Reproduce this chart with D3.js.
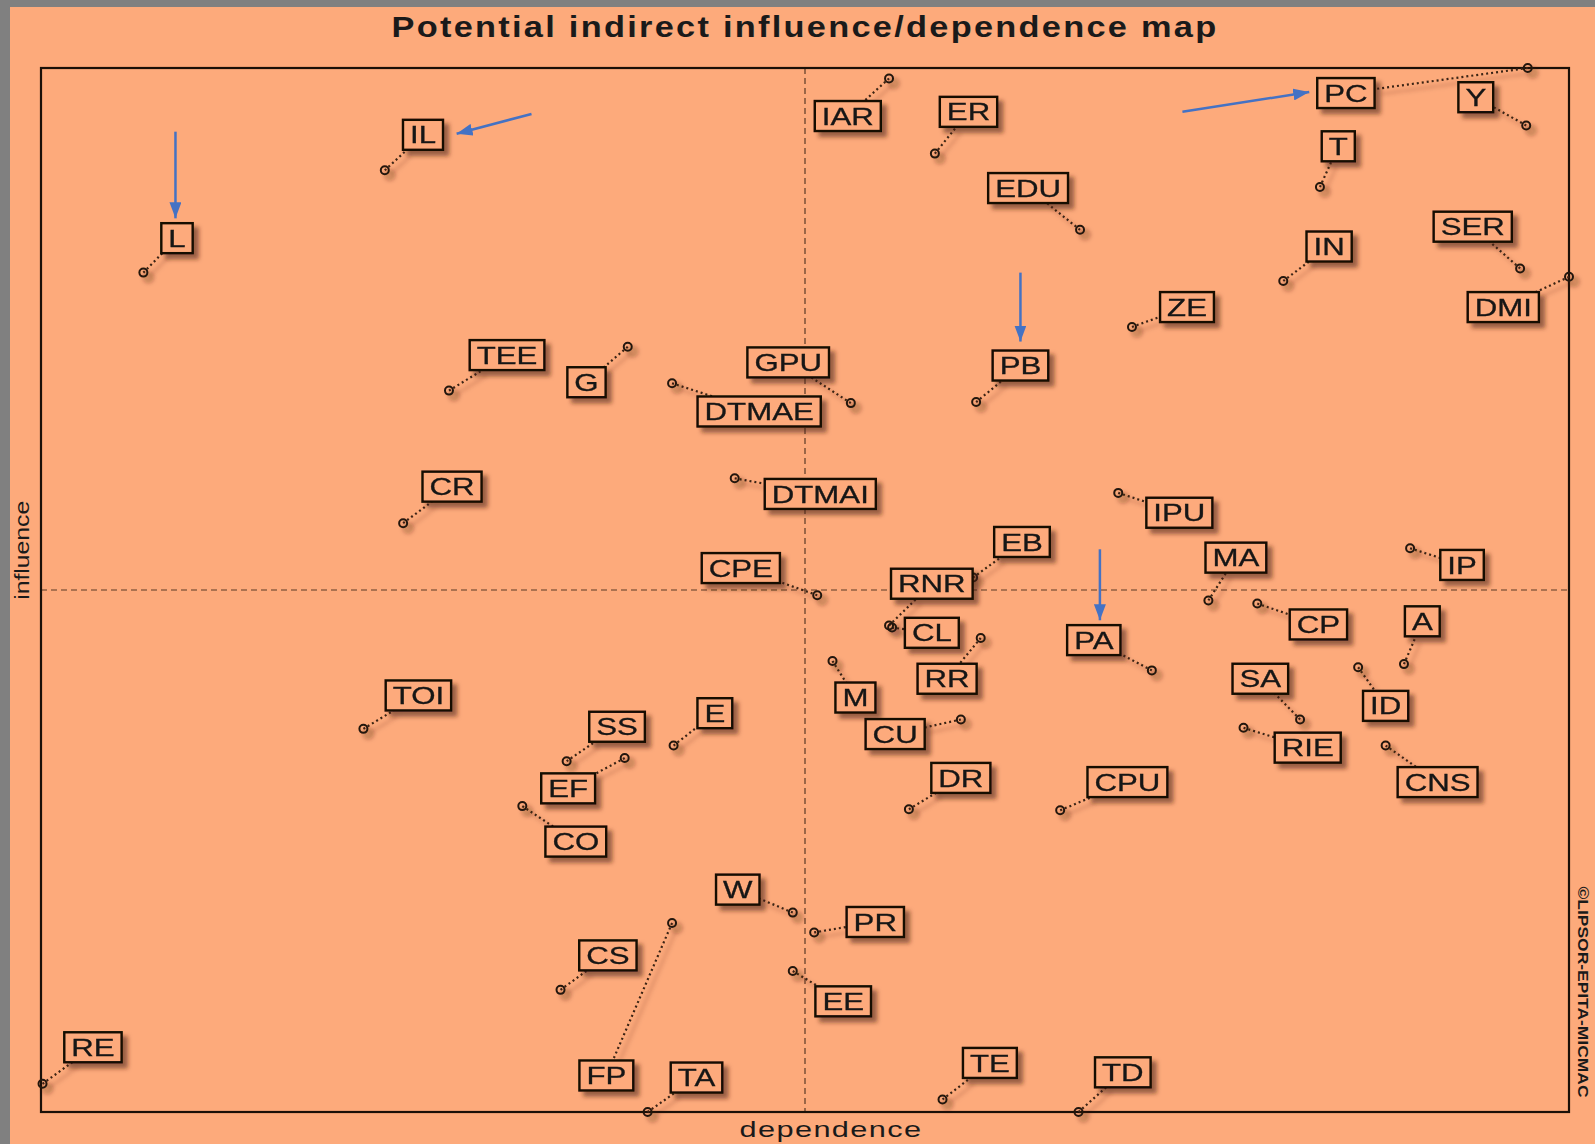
<!DOCTYPE html>
<html>
<head>
<meta charset="utf-8">
<title>Potential indirect influence/dependence map</title>
<script src="https://d3js.org/d3.v7.min.js"></script>
<style>
  body { margin: 0; background: #fdaa7b; }
  text { font-family: "Liberation Sans", Arial, sans-serif; }
</style>
</head>
<body>
<svg id="canvas" width="1595" height="1144"></svg>
<script>
// MICMAC variables: position on the map (0-100 on both axes)
var codes = ["L","IL","RE","TEE","G","GPU","DTMAE","IAR","ER","EDU",
             "PC","Y","T","IN","SER","DMI","ZE","PB","CR","DTMAI",
             "IPU","EB","MA","IP","CPE","RNR","CL","RR","PA","CP",
             "A","SA","ID","RIE","CNS","TOI","SS","E","EF","CO",
             "M","CU","DR","CPU","W","PR","CS","EE","FP","TA",
             "TE","TD"];
var dependence = [6.7,22.5,0.1,26.7,38.4,53.0,41.3,55.5,58.5,68.0,
                  97.3,97.2,83.7,81.3,96.8,100,71.4,61.2,23.7,45.4,
                  70.5,61.0,76.4,89.6,50.8,55.5,55.7,61.5,72.7,79.6,
                  89.2,82.4,86.2,78.7,88.0,21.1,34.4,41.4,38.2,31.5,
                  51.8,60.2,56.8,66.7,49.2,50.6,34.0,49.2,41.3,39.7,
                  59.0,67.9];
var influence = [80.4,90.2,2.7,69.1,73.3,67.9,69.8,99.0,91.8,84.5,
                 100,94.5,88.6,79.6,80.8,80.0,75.2,68.0,56.4,60.7,
                 59.3,51.2,49.0,54.0,49.5,46.6,46.4,45.4,42.3,48.7,
                 42.9,37.6,42.6,36.8,35.1,36.7,33.6,35.1,33.9,29.3,
                 43.2,37.6,29.0,28.9,19.1,17.2,11.7,13.5,18.1,0,
                 1.2,0];
// where each label box sits (same scale)
var labelDep = [8.9,25.0,3.4,30.5,35.7,48.9,47.0,52.8,60.7,64.6,
                85.4,93.9,84.9,84.3,93.7,95.7,75.0,64.1,26.9,51.0,
                74.5,64.2,78.2,93.0,45.8,58.3,58.3,59.3,68.9,83.6,
                90.4,79.8,88.0,82.9,91.4,24.7,37.7,44.1,34.5,35.0,
                53.3,55.9,60.2,71.1,45.6,54.6,37.1,52.5,37.0,42.9,
                62.1,70.8];
var labelInf = [83.7,93.6,6.2,72.5,69.9,71.8,67.1,95.4,95.8,88.5,
                97.6,97.2,92.5,82.9,84.8,77.1,77.1,71.5,59.9,59.2,
                57.4,54.6,53.1,52.4,52.1,50.6,45.9,41.5,45.2,46.7,
                47.0,41.5,38.9,34.9,31.6,39.9,36.9,38.2,31.0,25.9,
                39.7,36.2,32.0,31.6,21.3,18.2,15.0,10.6,3.5,3.3,
                4.7,3.8];

// blue annotation arrows
var arrowFromDep = [8.8, 32.1, 74.7, 64.1, 69.3];
var arrowFromInf = [93.9, 95.6, 95.8, 80.4, 53.9];
var arrowToDep   = [8.8, 27.2, 83.0, 64.1, 69.3];
var arrowToInf   = [85.6, 93.7, 97.7, 73.8, 47.1];

var svg = d3.select("#canvas");
var W = +svg.attr("width"), H = +svg.attr("height");
var margin = {top: 68, right: 26, bottom: 32, left: 41};
var width = W - margin.left - margin.right;
var height = H - margin.top - margin.bottom;

// background + grey frame strips
svg.append("rect").attr("width", W).attr("height", H).attr("fill", "#fdaa7b");
svg.append("rect").attr("width", 10).attr("height", H).attr("fill", "#808080");
svg.append("rect").attr("width", W).attr("height", 7).attr("fill", "#808080");

var defs = svg.append("defs");
var f = defs.append("filter").attr("id", "shadow")
    .attr("filterUnits", "userSpaceOnUse")
    .attr("x", -W).attr("y", -H).attr("width", 3 * W).attr("height", 3 * H);
f.append("feDropShadow").attr("dx", 5).attr("dy", 5).attr("stdDeviation", 2.2)
    .attr("flood-color", "#4a2408").attr("flood-opacity", 0.55);

defs.append("marker").attr("id", "head")
    .attr("viewBox", "0 0 16 12").attr("refX", 16).attr("refY", 6)
    .attr("markerWidth", 16).attr("markerHeight", 12)
    .attr("markerUnits", "userSpaceOnUse").attr("orient", "auto")
  .append("path").attr("d", "M0,0L16,6L0,12Z").attr("fill", "#4472c4");

var x = d3.scaleLinear().domain([0, 100]).range([0, width]);
var y = d3.scaleLinear().domain([0, 100]).range([height, 0]);

// title
svg.append("text")
    .attr("x", margin.left + x(50)).attr("y", 37)
    .attr("text-anchor", "middle")
    .attr("font-size", 30).attr("font-weight", "bold").attr("fill", "#1a1a1a")
    .attr("letter-spacing", 2)
    .attr("textLength", 827).attr("lengthAdjust", "spacingAndGlyphs")
    .text("Potential  indirect influence/dependence map");

var g = svg.append("g")
    .attr("transform", "translate(" + margin.left + "," + margin.top + ")");

// crosshair at the means
g.append("line").attr("x1", x(50)).attr("x2", x(50)).attr("y1", 0).attr("y2", height)
    .attr("stroke", "#5a3a26").attr("stroke-width", 1.2).attr("stroke-dasharray", "6,4");
g.append("line").attr("x1", 0).attr("x2", width).attr("y1", y(50)).attr("y2", y(50))
    .attr("stroke", "#5a3a26").attr("stroke-width", 1.2).attr("stroke-dasharray", "6,4");

g.append("rect").attr("width", width).attr("height", height)
    .attr("fill", "none").attr("stroke", "#1a1008").attr("stroke-width", 2.2);

// axis titles
svg.append("text")
    .attr("transform", "translate(29," + (margin.top + y(53.8)) + ") rotate(-90)")
    .attr("text-anchor", "middle").attr("font-size", 20).attr("fill", "#1a1a1a")
    .attr("textLength", 99).attr("lengthAdjust", "spacingAndGlyphs")
    .text("influence");
svg.append("text")
    .attr("x", 831).attr("y", 1137)
    .attr("text-anchor", "middle").attr("font-size", 22).attr("fill", "#1a1a1a")
    .attr("letter-spacing", 1)
    .attr("textLength", 183).attr("lengthAdjust", "spacingAndGlyphs")
    .text("dependence");
svg.append("text")
    .attr("transform", "translate(1578,992) rotate(90)")
    .attr("text-anchor", "middle").attr("font-size", 14).attr("font-weight", "bold")
    .attr("fill", "#1a1a1a")
    .attr("textLength", 211).attr("lengthAdjust", "spacingAndGlyphs")
    .text("\u00a9LIPSOR-EPITA-MICMAC");

var leaderLayer = g.append("g").attr("filter", "url(#shadow)");
var pointLayer = g.append("g").attr("filter", "url(#shadow)");
var boxLayer = g.append("g");

var data = codes.map(function(c, i) {
    return {code: c, dep: dependence[i], inf: influence[i], ld: labelDep[i], li: labelInf[i]};
});

// label boxes
var boxes = boxLayer.selectAll("g.box").data(data).enter().append("g")
    .attr("class", "box")
    .attr("filter", "url(#shadow)")
    .attr("transform", function(d) { return "translate(" + x(d.ld) + "," + y(d.li) + ")"; });

var rects = boxes.append("rect").attr("fill", "#fdaa7b")
    .attr("stroke", "#120a04").attr("stroke-width", 2.4);

boxes.append("text")
    .attr("text-anchor", "middle").attr("y", 8.6)
    .attr("font-size", 24).attr("fill", "#151515")
    .attr("stroke", "#151515").attr("stroke-width", 0.3)
    .text(function(d) { return d.code; })
    .each(function(d) {
        var w = this.getComputedTextLength() * 1.3;
        d3.select(this).attr("textLength", w).attr("lengthAdjust", "spacingAndGlyphs");
        d.hw = w / 2 + 7;
        d.hh = 15;
    });

rects.attr("x", function(d) { return -d.hw; }).attr("y", function(d) { return -d.hh; })
    .attr("width", function(d) { return 2 * d.hw; }).attr("height", function(d) { return 2 * d.hh; });

// leader lines from point to box edge
function edge(d) {
    var cx = x(d.ld), cy = y(d.li);
    var dx = x(d.dep) - cx, dy = y(d.inf) - cy;
    var t = Math.min(dx ? d.hw / Math.abs(dx) : Infinity, dy ? d.hh / Math.abs(dy) : Infinity);
    return [cx + dx * t, cy + dy * t, t];
}

leaderLayer.selectAll("line").data(data.filter(function(d) { return edge(d)[2] < 1; }))
    .enter().append("line")
    .attr("x1", function(d) { return x(d.dep); })
    .attr("y1", function(d) { return y(d.inf); })
    .attr("x2", function(d) { return edge(d)[0]; })
    .attr("y2", function(d) { return edge(d)[1]; })
    .attr("stroke", "#3a2414").attr("stroke-width", 2.2)
    .attr("stroke-dasharray", "2,3");

pointLayer.selectAll("circle").data(data).enter().append("circle")
    .attr("cx", function(d) { return x(d.dep); })
    .attr("cy", function(d) { return y(d.inf); })
    .attr("r", 4)
    .attr("fill", "none").attr("stroke", "#24160c").attr("stroke-width", 2);

// blue arrows
g.selectAll("line.arrow").data(arrowFromDep).enter().append("line")
    .attr("class", "arrow")
    .attr("x1", function(d, i) { return x(arrowFromDep[i]); })
    .attr("y1", function(d, i) { return y(arrowFromInf[i]); })
    .attr("x2", function(d, i) { return x(arrowToDep[i]); })
    .attr("y2", function(d, i) { return y(arrowToInf[i]); })
    .attr("stroke", "#4472c4").attr("stroke-width", 2.5)
    .attr("marker-end", "url(#head)");
</script>
</body>
</html>
